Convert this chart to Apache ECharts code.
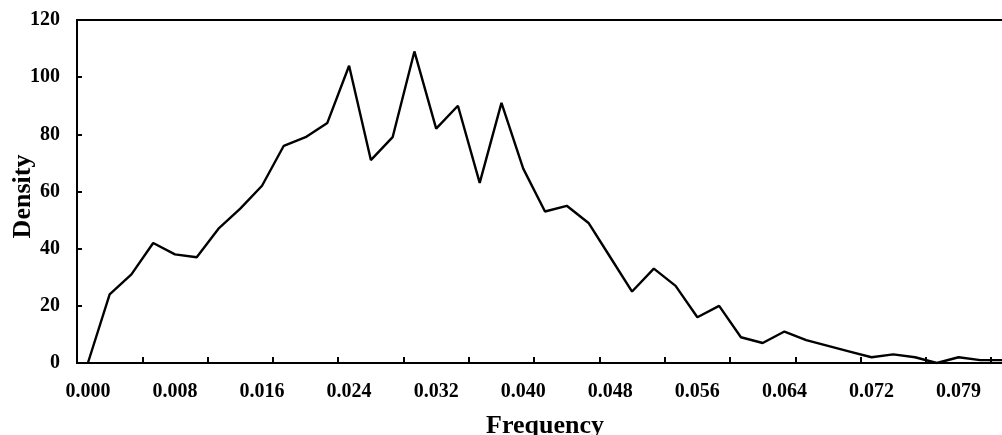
<!DOCTYPE html>
<html lang="en">
<head>
    <meta charset="UTF-8">
    <title>Density</title>
    <script type="text/javascript" src="https://cdn.jsdelivr.net/npm/echarts@6/dist/echarts.min.js"></script>
    <style>
        html, body { margin: 0; padding: 0; background: #fff; }
        #charts { width: 1002px; height: 435px; }
    </style>
</head>
<body>
<div id="charts"></div>
<script>
    // x categories (frequency bins), labels shown every 4th
    var freqLabels = ['0.000', '0.002', '0.004', '0.006', '0.008', '0.010', '0.012', '0.014', '0.016', '0.018',
        '0.020', '0.022', '0.024', '0.026', '0.028', '0.030', '0.032', '0.034', '0.036', '0.038',
        '0.040', '0.042', '0.044', '0.046', '0.048', '0.050', '0.052', '0.054', '0.056', '0.058',
        '0.060', '0.062', '0.064', '0.066', '0.068', '0.070', '0.072', '0.074', '0.076', '0.077',
        '0.079', '0.081', '0.083']
    var density = [0, 24, 31, 42, 38, 37, 47, 54, 62, 76,
        79, 84, 104, 71, 79, 109, 82, 90, 63, 91,
        68, 53, 55, 49, 37, 25, 33, 27, 16, 20,
        9, 7, 11, 8, 6, 4, 2, 3, 2, 0,
        2, 1, 1]
    var yTicks = [0, 20, 40, 60, 80, 100, 120]

    var font = 'Liberation Serif, Times New Roman, serif'
    var chart = echarts.init(document.getElementById('charts'), null, {renderer: 'canvas'})
    chart.setOption({
        animation: false,
        grid: {
            left: 77, top: 20, right: -11, bottom: 72,
            show: true, borderColor: '#000', borderWidth: 2,
            outerBoundsMode: 'none'
        },
        xAxis: {
            type: 'category',
            data: freqLabels,
            boundaryGap: true,
            name: 'Frequency',
            nameLocation: 'middle',
            nameGap: 50,
            nameMoveOverlap: false,
            nameTextStyle: {fontFamily: font, fontWeight: 'bold', fontSize: 26, color: '#000'},
            axisLine: {lineStyle: {color: '#000', width: 2}},
            axisTick: {show: true, inside: true, length: 6, interval: 2, lineStyle: {color: '#000', width: 2}},
            axisLabel: {interval: 3, margin: 19, fontFamily: font, fontWeight: 'bold', fontSize: 20, color: '#000'},
            splitLine: {show: false}
        },
        yAxis: {
            type: 'value',
            min: yTicks[0], max: yTicks[yTicks.length - 1], interval: 20,
            name: 'Density',
            nameLocation: 'middle',
            nameGap: 41,
            nameMoveOverlap: false,
            nameTextStyle: {fontFamily: font, fontWeight: 'bold', fontSize: 26, color: '#000', padding: [0, 10, 0, 0]},
            axisLine: {show: true, lineStyle: {color: '#000', width: 2}},
            axisTick: {show: true, inside: true, length: 5, lineStyle: {color: '#000', width: 2}},
            axisLabel: {margin: 17, fontFamily: font, fontWeight: 'bold', fontSize: 20, color: '#000'},
            splitLine: {show: false}
        },
        series: [{
            type: 'line',
            data: density,
            showSymbol: false,
            lineStyle: {color: '#000', width: 2.4},
            itemStyle: {color: '#000'}
        }]
    })
</script>
</body>
</html>
